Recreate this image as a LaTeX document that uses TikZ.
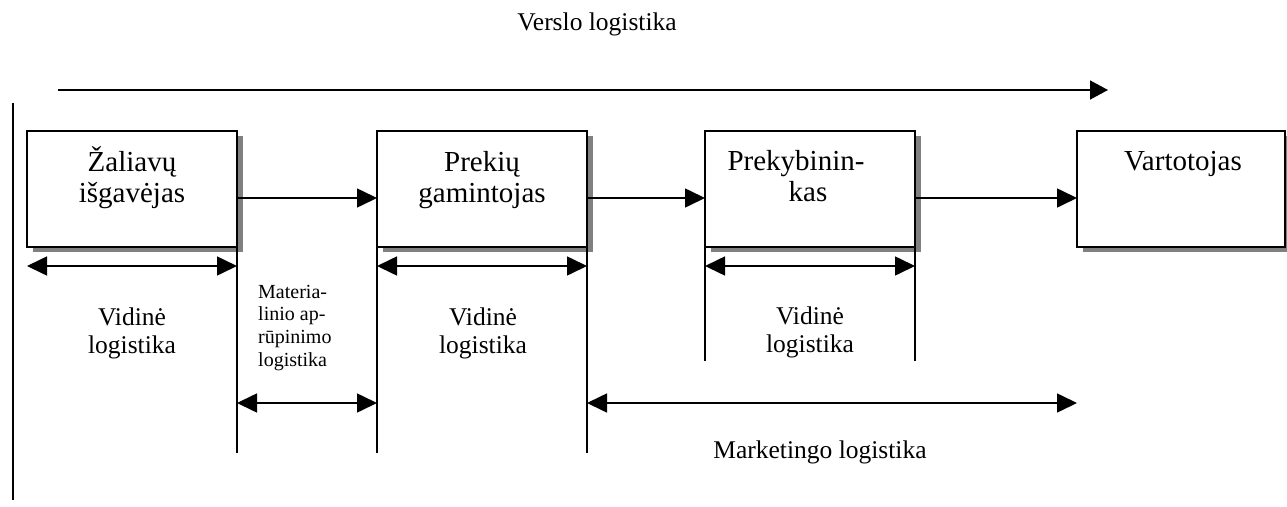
\documentclass[tikz,border=0pt]{standalone}
\usepackage{fontspec}
\setmainfont{Liberation Serif}
\usetikzlibrary{arrows.meta,shadows}
\newcommand{\fs}[2]{\fontsize{#1}{#2}\selectfont}
\newcommand{\tstrut}[1]{\rule{0pt}{#1}}
\begin{document}
\begin{tikzpicture}[x=1pt,y=-1pt,
  boxnode/.style={draw=black,line width=1.8pt,fill=white,minimum height=116pt,inner sep=0pt,outer sep=0pt,
     general shadow={fill=black!50,draw=none,shadow xshift=6pt,shadow yshift=-5pt}},
  boxtxt/.style={font=\fs{29}{31},align=center,anchor=north,inner sep=0pt},
  lbl/.style={font=\fs{25.5}{28},align=center,anchor=north,inner sep=0pt},
  ln/.style={line width=1.6pt},
  conn/.style={line width=1.6pt,-{Triangle[length=20pt,width=19pt]}},
  dbl/.style={line width=1.6pt,{Triangle[length=20pt,width=19pt]}-{Triangle[length=20pt,width=19pt]}},
  toparrow/.style={line width=1.6pt,-{Triangle[length=18pt,width=19pt]}}
]
\useasboundingbox (0,0) rectangle (1287,506);

% title
\node[font=\fs{25.5}{28},anchor=base,inner sep=0pt] (title) at (597,30) {Verslo logistika};

% top arrow and left line
\coordinate (ta1) at (58,90);
\coordinate (ta2) at (1108,90);
\draw[toparrow] (ta1) -- (ta2);
\coordinate (ll1) at (13,103);
\coordinate (ll2) at (13,500);
\draw[ln] (ll1) -- (ll2);

% boxes
\node[boxnode,minimum width=210pt] (b1) at (132,189) {};
\node[boxnode,minimum width=210pt] (b2) at (482,189) {};
\node[boxnode,minimum width=210pt] (b3) at (810,189) {};
\node[boxnode,minimum width=208pt] (b4) at (1181,189) {};

% box texts
\node[boxtxt] (t1) at (132,144) {\tstrut{27pt}Žaliavų\\išgavėjas};
\node[boxtxt] (t2) at (482,144) {\tstrut{27pt}Prekių\\gamintojas};
\node[boxtxt] (t3) at (796,143) {\tstrut{27pt}Prekybinin-\\\hspace*{24pt}kas};
\node[boxtxt] (t4) at (1183,143) {\tstrut{27pt}Vartotojas};

% connectors between boxes
\draw[conn] ([yshift=-9pt]b1.east) -- ([yshift=-9pt]b2.west);
\draw[conn] ([yshift=-9pt]b2.east) -- ([yshift=-9pt]b3.west);
\draw[conn] ([yshift=-9pt]b3.east) -- ([yshift=-9pt]b4.west);

% vertical lines
\coordinate (v1) at (237,453);
\coordinate (v2) at (377,453);
\coordinate (v3) at (587,453);
\coordinate (v4) at (705,361);
\coordinate (v5) at (915,361);
\draw[ln] (b1.south east) -- (v1);
\draw[ln] (b2.south west) -- (v2);
\draw[ln] (b2.south east) -- (v3);
\draw[ln] (b3.south west) -- (v4);
\draw[ln] (b3.south east) -- (v5);

% double arrows under boxes
\draw[dbl] ([yshift=-19pt]b1.south west) -- ([yshift=-19pt]b1.south east);
\draw[dbl] ([yshift=-19pt]b2.south west) -- ([yshift=-19pt]b2.south east);
\draw[dbl] ([yshift=-19pt]b3.south west) -- ([yshift=-19pt]b3.south east);

% lower double arrows
\coordinate (m1) at (237,403);
\coordinate (m2) at (377,403);
\coordinate (k1) at (587,403);
\coordinate (k2) at (1077,403);
\draw[dbl] (m1) -- (m2);
\draw[dbl] (k1) -- (k2);

% labels
\node[lbl] (l1) at (132,301) {\tstrut{24pt}Vidinė\\logistika};
\node[lbl] (l2) at (483,301) {\tstrut{24pt}Vidinė\\logistika};
\node[lbl] (l3) at (810,300) {\tstrut{24pt}Vidinė\\logistika};
\node[font=\fs{20}{22.7},align=left,anchor=north west,inner sep=0pt] (l4) at (258,279) {\tstrut{19pt}Materia-\\linio ap-\\rūpinimo\\logistika};
\node[font=\fs{25.5}{28},anchor=base,inner sep=0pt] (l5) at (820,458) {Marketingo logistika};
\end{tikzpicture}
\end{document}
